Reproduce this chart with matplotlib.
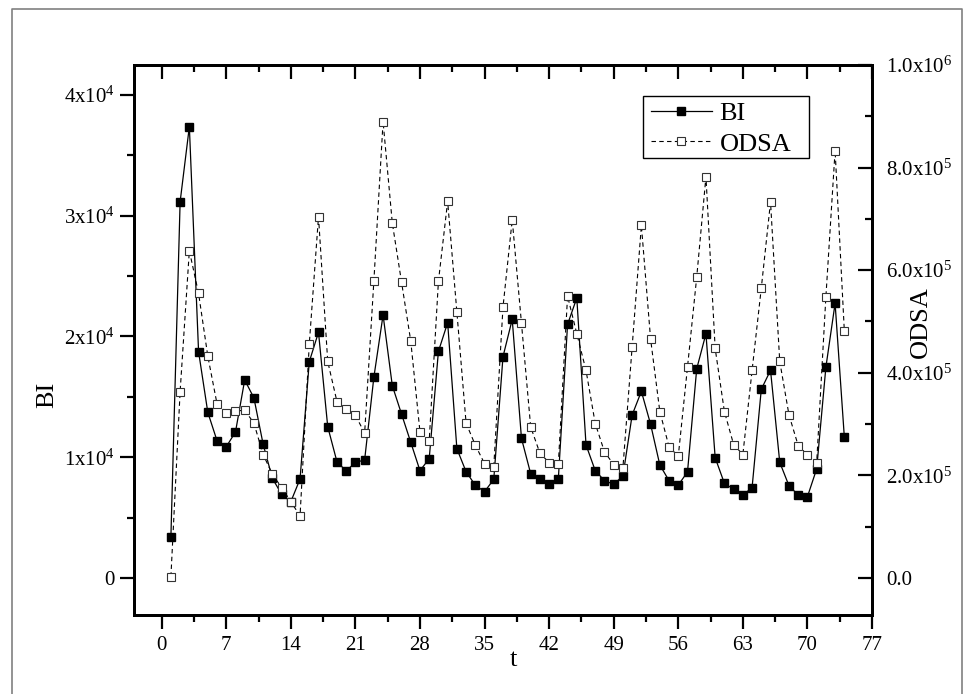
import matplotlib
matplotlib.use("Agg")
import matplotlib.pyplot as plt
from matplotlib.lines import Line2D
from matplotlib.patches import Rectangle
from matplotlib.ticker import FixedLocator, MultipleLocator, NullFormatter

plt.rcParams['font.family'] = ['Liberation Serif', 'DejaVu Serif']
plt.rcParams['mathtext.fontset'] = 'custom'
plt.rcParams['mathtext.rm'] = 'Liberation Serif'
plt.rcParams['mathtext.it'] = 'Liberation Serif'
plt.rcParams['mathtext.bf'] = 'Liberation Serif'
plt.rcParams['mathtext.default'] = 'regular'

# ---- data ----
t = list(range(1, 75))
bi = [3420, 31160, 37380, 18740, 13720, 11370, 10870, 12090, 16400, 14910,
      11070, 8260, 6930, 6320, 8200, 17910, 20350, 12530, 9630, 8860,
      9580, 9770, 16620, 21780, 15930, 13580, 11240, 8890, 9880, 18770,
      21140, 10710, 8800, 7680, 7150, 8170, 18330, 21420, 11570, 8640,
      8170, 7760, 8220, 21010, 23190, 11020, 8890, 8060, 7760, 8450,
      13500, 15460, 12730, 9360, 8060, 7700, 8780, 17330, 20230, 9960,
      7840, 7350, 6870, 7480, 15630, 17200, 9580, 7640, 6870, 6730,
      9030, 17450, 22750, 11680]
odsa = [2500, 363500, 638000, 554700, 432500, 339500, 322600, 325200, 327200, 301800,
        240600, 202300, 176300, 148900, 121000, 455900, 704400, 422100, 344000, 329200,
        317500, 282300, 578200, 889700, 692000, 577000, 461800, 284900, 267300, 578200,
        734200, 518400, 301800, 258900, 223000, 217200, 528200, 698500, 497000, 294600,
        243300, 225000, 222400, 549600, 476100, 404500, 301100, 245900, 221100, 215200,
        450700, 687400, 465700, 324500, 255600, 237500, 411100, 586700, 782400, 447400,
        324500, 260100, 240600, 404500, 565300, 733000, 422100, 318000, 258100, 240000,
        223800, 547700, 833200, 481900]

x_ticks = [0, 7, 14, 21, 28, 35, 42, 49, 56, 63, 70, 77]
bi_ticks = [0, 10000, 20000, 30000, 40000]
bi_ticklabels = ['0', r'1x10$^{4}$', r'2x10$^{4}$', r'3x10$^{4}$', r'4x10$^{4}$']
odsa_ticks = [0, 200000, 400000, 600000, 800000, 1000000]
odsa_ticklabels = ['0.0', r'2.0x10$^{5}$', r'4.0x10$^{5}$', r'6.0x10$^{5}$',
                   r'8.0x10$^{5}$', r'1.0x10$^{6}$']

W, H = 964, 694
AX_L, AX_R, AX_T, AX_B = 134, 872, 65, 615
fig = plt.figure(figsize=(W / 100, H / 100), dpi=100)
ax = fig.add_axes([AX_L / W, 1 - AX_B / H, (AX_R - AX_L) / W, (AX_B - AX_T) / H])
ax2 = ax.twinx()
ax3 = ax.twiny()

l1, = ax.plot(t, bi, '-', color='black', lw=0.9, marker='s', ms=5.5,
              mfc='black', mec='black', label='BI')
l2, = ax2.plot(t, odsa, '--', color='black', lw=0.8, dashes=(4, 3), marker='s', ms=5.5,
               mfc='white', mec='#333333', mew=0.8, label='ODSA')

ax.set_xlim(-3, 77)
ax3.set_xlim(-3, 77)
ax.set_ylim(-3064, 42484)
ax2.set_ylim(-72125, 1000000)

ax.xaxis.set_major_locator(FixedLocator(x_ticks))
ax.xaxis.set_minor_locator(MultipleLocator(3.5))
ax3.xaxis.set_major_locator(FixedLocator(x_ticks))
ax3.xaxis.set_minor_locator(MultipleLocator(3.5))
ax3.xaxis.set_major_formatter(NullFormatter())
ax.set_yticks(bi_ticks)
ax.set_yticklabels(bi_ticklabels)
ax.yaxis.set_minor_locator(MultipleLocator(5000))
ax2.set_yticks(odsa_ticks)
ax2.set_yticklabels(odsa_ticklabels)
ax2.yaxis.set_minor_locator(MultipleLocator(100000))

fs = 15
ax.tick_params(axis='x', which='both', direction='out', labelsize=fs, width=1.6, pad=5)
ax.tick_params(axis='x', which='major', length=10)
ax.tick_params(axis='x', which='minor', length=5)
ax3.tick_params(axis='x', which='both', direction='in', top=True, labeltop=False, width=1.6)
ax3.tick_params(axis='x', which='major', length=10)
ax3.tick_params(axis='x', which='minor', length=5)
ax.tick_params(axis='y', which='both', direction='out', labelsize=fs, width=1.6, pad=4)
ax.tick_params(axis='y', which='major', length=10)
ax.tick_params(axis='y', which='minor', length=5)
ax2.tick_params(axis='y', which='both', direction='in', labelsize=fs, width=1.6, pad=10)
ax2.tick_params(axis='y', which='major', length=10)
ax2.tick_params(axis='y', which='minor', length=5)

for a in (ax, ax2, ax3):
    for s in a.spines.values():
        s.set_linewidth(2.0)

ax.set_xlabel('t', fontsize=19, va='center')
ax.xaxis.set_label_coords(0.514, -0.082)
ax.set_ylabel('BI', fontsize=19, va='center')
ax.yaxis.set_label_coords(-0.118, 0.40)
ax2.set_ylabel('ODSA', fontsize=19, va='center', rotation=90)
ax2.yaxis.set_label_coords(1.066, 0.533)

# legend box drawn at its place, entries placed inside
aw, ah = AX_R - AX_L, AX_B - AX_T
bx0, bx1, by0, by1 = 643, 809, 96, 158
ax3.add_patch(Rectangle(((bx0 - AX_L) / aw, (AX_B - by1) / ah),
                        (bx1 - bx0) / aw, (by1 - by0) / ah,
                        transform=ax3.transAxes, fill=True, facecolor='white',
                        edgecolor='black', lw=1.0, zorder=5))
leg = ax3.legend([l1, l2], ['BI', 'ODSA'], loc='upper left',
                 bbox_to_anchor=((651 - AX_L) / aw, (AX_B - 102) / ah),
                 fontsize=19, frameon=False, handlelength=2.3, handletextpad=0.3,
                 borderpad=0.0, labelspacing=0.25, borderaxespad=0)
leg.set_zorder(6)

# outer frame
fig.add_artist(Line2D([11.5 / W, 11.5 / W, 962 / W, 962 / W],
                      [0, 1 - 9 / H, 1 - 9 / H, 0],
                      transform=fig.transFigure, color='#808080', lw=1.2))

fig.savefig('out.png', dpi=100)
